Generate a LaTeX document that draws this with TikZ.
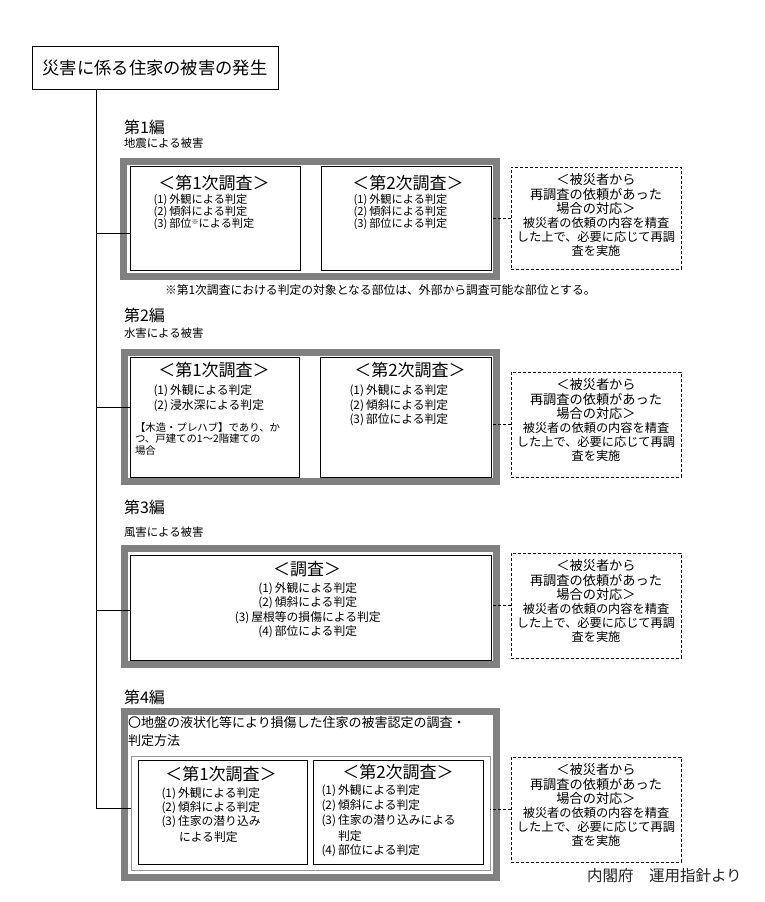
\documentclass[tikz,border=0pt]{standalone}
\usepackage{fontspec}
\setmainfont{Noto Sans CJK JP}
\definecolor{fgray}{RGB}{128,128,128}
\definecolor{tgray}{RGB}{150,150,150}
\newcommand\fsz[1]{\fontsize{#1}{#1}\selectfont}
\newcommand\pn[1]{\kern1.5pt(#1)\kern2pt}
\newcommand\dlines[1]{%
  \node[dt1] (#1l1) at ([yshift=-13pt]#1.north) {＜被災者から};
  \node[dt1] (#1l2) at ([yshift=-27.2pt]#1.north) {再調査の依頼があった};
  \node[dt1] (#1l3) at ([yshift=-41.4pt]#1.north) {場合の対応＞};
  \node[dt2] (#1l4) at ([yshift=-55.6pt]#1.north) {被災者の依頼の内容を精査};
  \node[dt2] (#1l5) at ([yshift=-69.8pt]#1.north) {した上で、必要に応じて再調};
  \node[dt2] (#1l6) at ([yshift=-84pt]#1.north) {査を実施};
}
\begin{document}
\begin{tikzpicture}[x=1pt,y=-1pt,
  every node/.style={inner sep=0pt,outer sep=0pt},
  blk/.style={draw=black,line width=1pt,anchor=north west},
  dbx/.style={draw=black,line width=0.8pt,dash pattern=on 3pt off 2pt,anchor=north west,minimum width=170pt},
  gfr/.style={draw=fgray,line width=7pt},
  conn/.style={draw=black,line width=1pt},
  dconn/.style={draw=black,line width=0.8pt,dash pattern=on 3pt off 2pt},
  hd/.style={anchor=west,font=\fsz{16}},
  sub/.style={anchor=west,font=\fsz{11.4}},
  ttl/.style={font=\fsz{17}},
  itm/.style={anchor=west,font=\fsz{11.8}},
  its/.style={anchor=west,font=\fsz{11.2}},
  itc/.style={font=\fsz{11.8}},
  sml/.style={anchor=west,font=\fsz{10.4}},
  dt1/.style={font=\fsz{13.2}},
  dt2/.style={font=\fsz{12.2}}]
\useasboundingbox (0,0) rectangle (764,902);
\fill[white] (0,0) rectangle (764,902);

% top box
\node[blk,minimum width=246pt,minimum height=43pt,font=\fsz{17.3}] (top) at (32,46) {災害に係る住家の被害の発生};

% trunk junctions
\coordinate (j1) at (96,233);
\coordinate (j2) at (96,407);
\coordinate (j3) at (96,610);
\coordinate (j4) at (96,808);

% ---------- Section 1 ----------
\node[hd] (h1) at (124,127) {第1編};
\node[sub] (u1) at (124,143) {地震による被害};
\draw[gfr] (123.5,161.5) rectangle (496.5,276.5);
\node[blk,minimum width=170pt,minimum height=104pt] (s1b1) at (130,166) {};
\node[blk,minimum width=170pt,minimum height=104pt] (s1b2) at (321,166) {};
\node[ttl] (s1t1) at (214,183) {＜第1次調査＞};
\node[its] (s1i1) at (152,200) {\pn{1}外観による判定};
\node[its] (s1i2) at (152,211.8) {\pn{2}傾斜による判定};
\node[its] (s1i3) at (152,223.6) {\pn{3}部位\raisebox{3pt}{\fsz{7}※}による判定};
\node[ttl] (s1t2) at (408,183) {＜第2次調査＞};
\node[its] (s1k1) at (352,200) {\pn{1}外観による判定};
\node[its] (s1k2) at (352,211.8) {\pn{2}傾斜による判定};
\node[its] (s1k3) at (352,223.6) {\pn{3}部位による判定};
\node[dbx,minimum height=102pt] (d1) at (511,167) {};
\dlines{d1}
\node[anchor=west,font=\fsz{11.8}] (fn1) at (165,290) {※第1次調査における判定の対象となる部位は、外部から調査可能な部位とする。};

% ---------- Section 2 ----------
\node[hd] (h2) at (124,315) {第2編};
\node[sub] (u2) at (124,333) {水害による被害};
\draw[gfr] (124.5,352.5) rectangle (496.5,481.5);
\node[blk,minimum width=169pt,minimum height=120pt] (s2b1) at (130,357) {};
\node[blk,minimum width=171pt,minimum height=120pt] (s2b2) at (320,357) {};
\node[ttl] (s2t1) at (214,370) {＜第1次調査＞};
\node[itm] (s2i1) at (152,391) {\pn{1}外観による判定};
\node[itm] (s2i2) at (152,406) {\pn{2}浸水深による判定};
\node[sml] (s2s1) at (135,427) {【木造・プレハブ】であり、か};
\node[sml] (s2s2) at (135,439) {つ、戸建ての1～2階建ての};
\node[sml] (s2s3) at (135,451) {場合};
\node[ttl] (s2t2) at (410,370) {＜第2次調査＞};
\node[itm] (s2k1) at (348,391) {\pn{1}外観による判定};
\node[itm] (s2k2) at (348,406) {\pn{2}傾斜による判定};
\node[itm] (s2k3) at (348,420) {\pn{3}部位による判定};
\node[dbx,minimum height=105pt] (d2) at (511,372) {};
\dlines{d2}

% ---------- Section 3 ----------
\node[hd] (h3) at (124,507) {第3編};
\node[sub] (u3) at (124,532) {風害による被害};
\draw[gfr] (124.5,548.5) rectangle (496.5,664.5);
\node[blk,minimum width=361pt,minimum height=105pt] (s3b1) at (130,555) {};
\node[ttl] (s3t1) at (307,569) {＜調査＞};
\node[itc] (s3i1) at (307,589) {\pn{1}外観による判定};
\node[itc] (s3i2) at (307,603) {\pn{2}傾斜による判定};
\node[itc] (s3i3) at (307,618) {\pn{3}屋根等の損傷による判定};
\node[itc] (s3i4) at (307,632) {\pn{4}部位による判定};
\node[dbx,minimum height=105pt] (d3) at (511,553) {};
\dlines{d3}

% ---------- Section 4 ----------
\node[hd] (h4) at (124,697) {第4編};
\draw[gfr] (124.5,711.5) rectangle (496.5,877.5);
\node[anchor=west,font=\fsz{13}] (s4h1) at (128,723) {〇地盤の液状化等により損傷した住家の被害認定の調査・};
\node[anchor=west,font=\fsz{13}] (s4h2) at (128,741) {判定方法};
\node[draw=tgray,line width=1pt,anchor=north west,minimum width=359pt,minimum height=114pt] (s4f) at (131,756) {};
\node[blk,minimum width=169pt,minimum height=104pt] (s4b1) at (138,760) {};
\node[blk,minimum width=170pt,minimum height=104pt] (s4b2) at (313,760) {};
\node[ttl] (s4t1) at (221,774) {＜第1次調査＞};
\node[itm] (s4i1) at (160,794) {\pn{1}外観による判定};
\node[itm] (s4i2) at (160,808) {\pn{2}傾斜による判定};
\node[itm] (s4i3) at (160,822) {\pn{3}住家の潜り込み};
\node[itm] (s4i4) at (179,837) {による判定};
\node[ttl] (s4t2) at (398,772) {＜第2次調査＞};
\node[itm] (s4k1) at (320,791) {\pn{1}外観による判定};
\node[itm] (s4k2) at (320,806) {\pn{2}傾斜による判定};
\node[itm] (s4k3) at (320,821) {\pn{3}住家の潜り込みによる};
\node[itm] (s4k4) at (338,836) {判定};
\node[itm] (s4k5) at (320,851) {\pn{4}部位による判定};
\node[dbx,minimum height=105pt] (d4) at (511,757) {};
\dlines{d4}

% footer
\node[anchor=west,font=\fsz{15.5},text=black!85] (src) at (587,876) {内閣府　運用指針より};

% connectors
\draw[conn] (top.south -| j1) -- (j4);
\draw[conn] (j1) -- (j1 -| s1b1.west);
\draw[conn] (j2) -- (j2 -| s2b1.west);
\draw[conn] (j3) -- (j3 -| s3b1.west);
\draw[conn] (j4) -- (j4 -| s4f.west);
\draw[dconn] (d1.west) -- (d1.west -| s1b2.east);
\draw[dconn] (d2.west) -- (d2.west -| s2b2.east);
\draw[dconn] (d3.west) -- (d3.west -| s3b1.east);
\draw[dconn] (d4.west) -- (d4.west -| s4f.east);
\end{tikzpicture}
\end{document}
